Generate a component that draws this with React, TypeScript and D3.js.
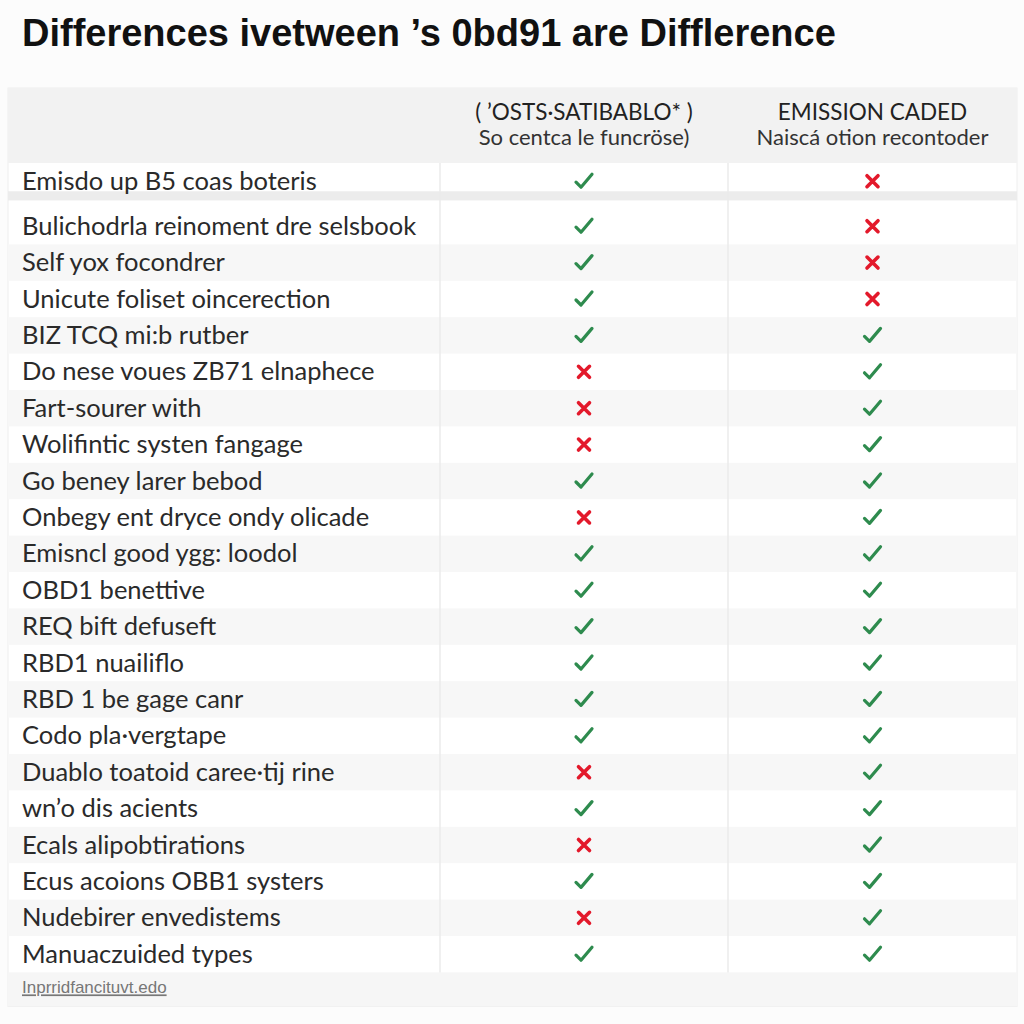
import React, { useEffect, useRef } from 'react';
import * as d3 from 'd3';

const title = "Differences ivetween \u2019s 0bd91 are Difflerence";

const headerLine1 = ["( \u2019OSTS\u00b7SATIBABLO* )", "EMISSION CADED"];
const headerLine2 = ["So centca le funcr\u00f6se)", "Naisc\u00e1 otion recontoder"];

const features = [
    "Emisdo up B5 coas boteris",
    "Bulichodrla reinoment dre selsbook",
    "Self yox focondrer",
    "Unicute foliset oincerection",
    "BIZ TCQ mi:b rutber",
    "Do nese voues ZB71 elnaphece",
    "Fart-sourer with",
    "Wolifintic systen fangage",
    "Go beney larer bebod",
    "Onbegy ent dryce ondy olicade",
    "Emisncl good ygg: loodol",
    "OBD1 benettive",
    "REQ bift defuseft",
    "RBD1 nuailiflo",
    "RBD 1 be gage canr",
    "Codo pla\u00b7vergtape",
    "Duablo toatoid caree\u00b7tij rine",
    "wn\u2019o dis acients",
    "Ecals alipobtirations",
    "Ecus acoions OBB1 systers",
    "Nudebirer envedistems",
    "Manuaczuided types"
];

const firstCol = [true, true, true, true, true, false, false, false, true, false, true, true, true, true, true, true, false, true, false, true, false, true];
const secondCol = [false, false, false, false, true, true, true, true, true, true, true, true, true, true, true, true, true, true, true, true, true, true];

const footnote = "Inprridfancituvt.edo";

const App = () => {
    const ref = useRef<SVGSVGElement>(null);

    useEffect(() => {
        const svg = d3.select(ref.current);
        svg.selectAll("*").remove();

        const W = 1024, H = 1024;
        const left = 8, right = 1017;
        const colEdges = [left, 440, 728, right];
        const headTop = 88, headBottom = 163;
        const gap = 8.6;
        const step = 36.4;

        svg.attr("width", W).attr("height", H);
        svg.append("rect").attr("width", W).attr("height", H).attr("fill", "#fcfcfc");

        // rows: first one stands apart from the rest
        const y = d3.scaleBand<number>()
            .domain(d3.range(features.length))
            .range([headBottom + gap, headBottom + gap + step * features.length])
            .paddingInner(0);
        const rowY = (i: number) => (y(i) as number) - (i === 0 ? gap : 0);
        const tableBottom = headBottom + gap + step * features.length;

        const x = d3.scaleOrdinal<string, number>()
            .domain(["a", "b"])
            .range([(colEdges[1] + colEdges[2]) / 2, (colEdges[2] + colEdges[3]) / 2]);

        // table body
        svg.append("rect")
            .attr("x", left).attr("y", headTop)
            .attr("width", right - left).attr("height", tableBottom + 34 - headTop)
            .attr("fill", "#ffffff")
            .attr("stroke", "#eeeeee");

        svg.append("rect")
            .attr("x", left).attr("y", headTop)
            .attr("width", right - left).attr("height", headBottom - headTop)
            .attr("fill", "#f2f2f2");

        svg.append("rect")
            .attr("x", left).attr("y", headBottom + step - gap + 0.5)
            .attr("width", right - left).attr("height", gap + 0.5)
            .attr("fill", "#ececec");

        svg.selectAll(".stripe")
            .data(features.map((d, i) => i).filter(i => i > 0 && i % 2 === 0))
            .enter().append("rect")
            .attr("class", "stripe")
            .attr("x", left).attr("y", i => rowY(i))
            .attr("width", right - left).attr("height", step)
            .attr("fill", "#f7f7f7");

        svg.append("rect")
            .attr("x", left).attr("y", tableBottom)
            .attr("width", right - left).attr("height", 34)
            .attr("fill", "#f6f6f6");

        // column dividers
        svg.selectAll(".vdiv")
            .data(colEdges.slice(1, 3))
            .enter().append("line")
            .attr("class", "vdiv")
            .attr("x1", d => d).attr("x2", d => d)
            .attr("y1", headBottom).attr("y2", tableBottom)
            .attr("stroke", "#ebebeb")
            .attr("stroke-width", 1.5);

        // title
        svg.append("text")
            .attr("x", 22).attr("y", 46)
            .attr("font-family", "Liberation Sans, Arial, sans-serif")
            .attr("font-weight", "bold")
            .attr("font-size", 38)
            .attr("fill", "#111")
            .text(title);

        // header texts
        svg.selectAll(".h1")
            .data(headerLine1)
            .enter().append("text")
            .attr("x", (d, i) => x(i === 0 ? "a" : "b"))
            .attr("y", 120)
            .attr("text-anchor", "middle")
            .attr("font-family", "Lato, sans-serif")
            .attr("font-size", 22.5)
            .attr("fill", "#222")
            .text(d => d);

        svg.selectAll(".h2")
            .data(headerLine2)
            .enter().append("text")
            .attr("x", (d, i) => x(i === 0 ? "a" : "b"))
            .attr("y", 145)
            .attr("text-anchor", "middle")
            .attr("font-family", "Lato, sans-serif")
            .attr("font-size", 22)
            .attr("fill", "#333")
            .text(d => d);

        // row labels
        svg.selectAll(".label")
            .data(features)
            .enter().append("text")
            .attr("x", 22)
            .attr("y", (d, i) => rowY(i) + step / 2 + 8.5)
            .attr("font-family", "Lato, sans-serif")
            .attr("font-size", 25.5)
            .attr("fill", "#2a2a2a")
            .text(d => d);

        // marks
        const drawMark = (ok: boolean, cx: number, cy: number) => {
            if (ok) {
                svg.append("path")
                    .attr("d", `M${cx - 8},${cy + 1} L${cx - 3},${cy + 6} L${cx + 8},${cy - 7}`)
                    .attr("fill", "none")
                    .attr("stroke", "#2e8b4e")
                    .attr("stroke-width", 3.2)
                    .attr("stroke-linecap", "round")
                    .attr("stroke-linejoin", "round");
            } else {
                svg.append("path")
                    .attr("d", `M${cx - 5.5},${cy - 5.5} L${cx + 5.5},${cy + 5.5} M${cx + 5.5},${cy - 5.5} L${cx - 5.5},${cy + 5.5}`)
                    .attr("stroke", "#e3192b")
                    .attr("stroke-width", 3.6)
                    .attr("stroke-linecap", "round");
            }
        };

        features.forEach((f, i) => {
            const cy = rowY(i) + step / 2;
            drawMark(firstCol[i], x("a"), cy);
            drawMark(secondCol[i], x("b"), cy);
        });

        // footnote
        svg.append("text")
            .attr("x", 22).attr("y", tableBottom + 21)
            .attr("font-family", "Liberation Sans Narrow, Liberation Sans, sans-serif")
            .attr("font-size", 17)
            .attr("fill", "#777")
            .attr("text-decoration", "underline")
            .text(footnote);
    }, []);

    return <svg ref={ref} style={{ position: "absolute", left: 0, top: 0, display: "block" }} />;
};

export default App;
